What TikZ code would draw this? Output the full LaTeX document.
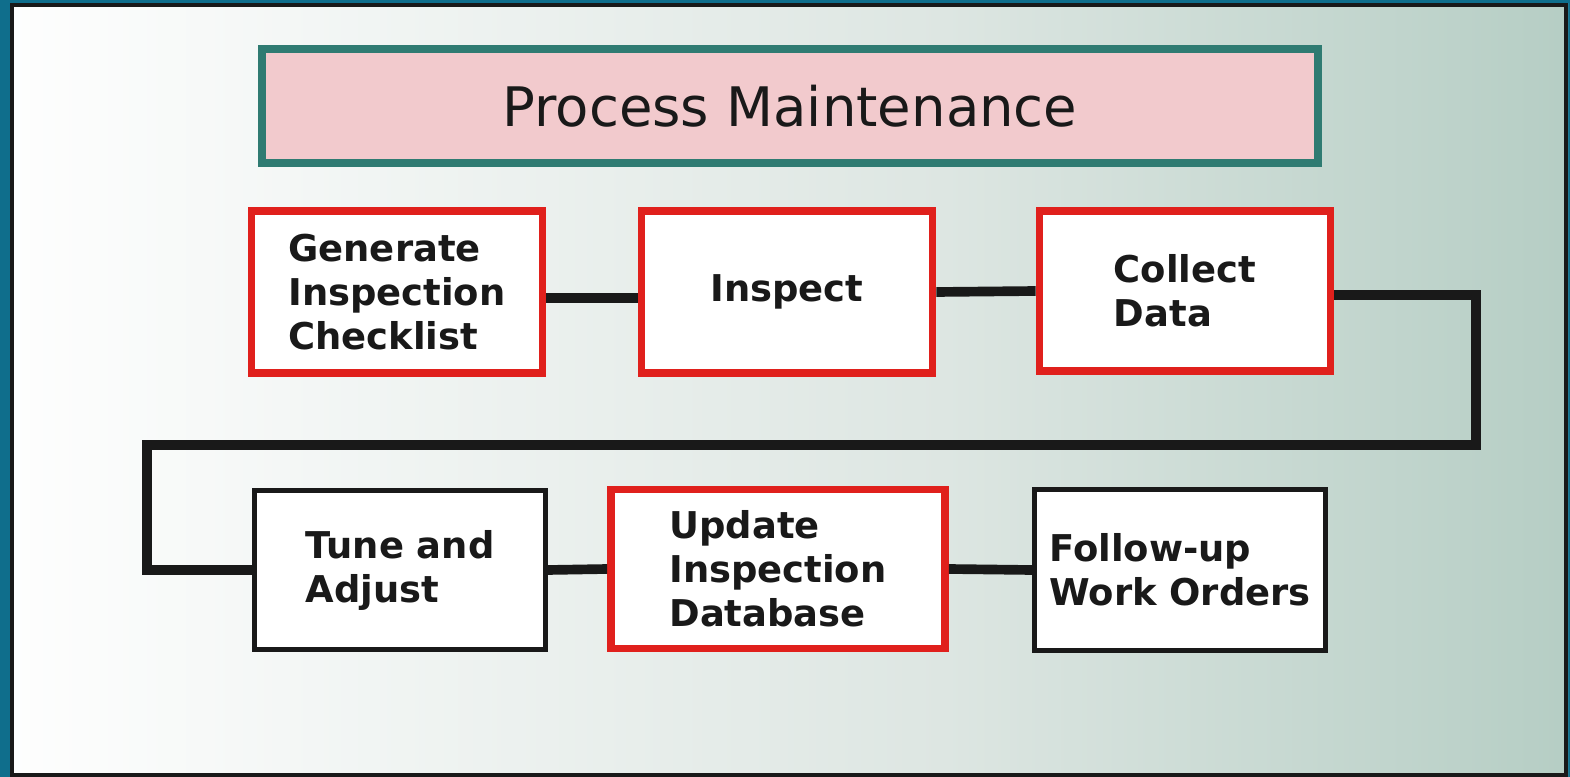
\documentclass[tikz,border=0pt]{standalone}
\usepackage{fontspec}
\setmainfont{DejaVu Sans}
\definecolor{frameblue}{HTML}{0F6E8C}
\definecolor{bgmid}{HTML}{DDE6E2}
\definecolor{bgright}{HTML}{9CBEB1}
\definecolor{titlepink}{HTML}{F2CACD}
\definecolor{titleteal}{HTML}{2F7B72}
\definecolor{boxred}{HTML}{E0201C}
\pgfdeclarehorizontalshading{panelshade}{100bp}{color(0bp)=(white); color(25bp)=(white!96!bgmid); color(55bp)=(bgmid); color(88bp)=(bgright); color(100bp)=(bgright)}
\tikzset{
	stepred/.style={draw=boxred, line width=4.5pt, fill=white, align=left, text=black!90,
		font=\fontsize{21}{25}\selectfont\bfseries, inner sep=0pt},
	stepblack/.style={stepred, draw=black!90, line width=2.7pt},
	link/.style={draw=black!90, line width=5.5pt}
}
\begin{document}
\begin{tikzpicture}[x=0.02cm, y=-0.02cm, line join=miter]
\def\W{5.82cm} \def\H{3.24cm} % box size
\useasboundingbox (0,0) rectangle (1570,777);
\fill[frameblue] (0,0) rectangle (1570,777);
\shade[shading=panelshade] (10,4) rectangle (1568,777);
\draw[black!90, line width=2.5pt] (12,5)--(1566,5)--(1566,775)--(12,775)--cycle;
% title
\node[draw=titleteal, line width=4.5pt, fill=titlepink, minimum width=21.12cm, minimum height=2.28cm,
	font=\fontsize{31}{36}\selectfont, text=black!90] (title) at (790,106) {Process Maintenance};
% first row
\node[stepred, minimum width=\W, minimum height=\H] (gen) at (397,292) {Generate\\Inspection\\Checklist};
\node[stepred, minimum width=\W, minimum height=\H] (insp) at (787,292) {Inspect};
\node[stepred, minimum width=\W, minimum height=3.2cm] (coll) at (1185,291) {Collect\\Data};
% second row
\node[stepblack, minimum width=5.81cm, minimum height=3.19cm] (tune) at (400,570) {Tune and\\Adjust};
\node[stepred, minimum width=6.68cm, minimum height=3.18cm] (upd) at (778,569) {Update\\Inspection\\Database};
\node[stepblack, minimum width=5.83cm, minimum height=3.21cm] (foll) at (1180,570) {Follow-up\\Work Orders};
\coordinate (turnR) at (1476,445);
\coordinate (turnL) at (147,445);
% connectors
\draw[link] ([yshift=-0.12cm]gen.east) -- ([yshift=-0.12cm]insp.west);
\draw[link] (insp.east) -- (coll.west);
\draw[link] ([yshift=-0.08cm]coll.east) -| (turnR) -- (turnL) |- (tune.west);
\draw[link] (tune.east) -- (upd.west);
\draw[link] (upd.east) -- (foll.west);
\end{tikzpicture}
\end{document}
